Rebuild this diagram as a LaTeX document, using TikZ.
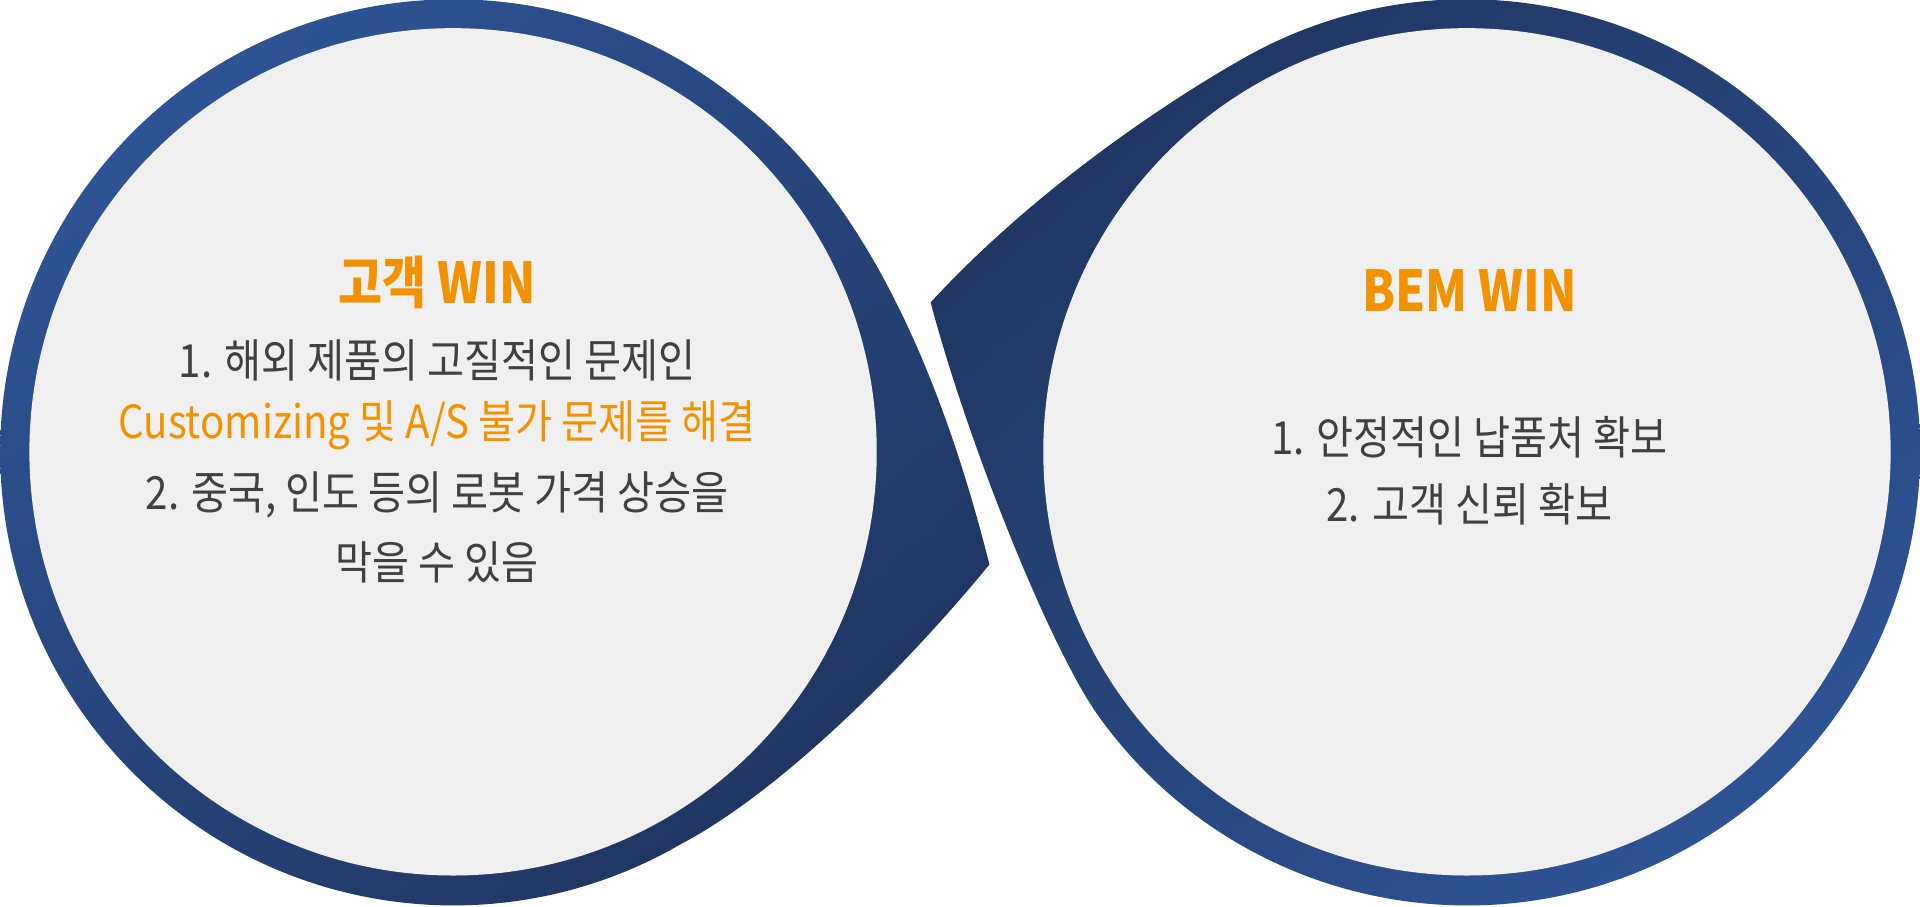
\documentclass[tikz,border=0pt]{standalone}
\usepackage{fontspec}
\newfontfamily\kr{Noto Sans CJK KR}
\definecolor{bl}{HTML}{2F5597}
\definecolor{bd}{HTML}{1F3560}
\definecolor{org}{HTML}{F39200}
\definecolor{txt}{HTML}{404040}
\definecolor{inner}{HTML}{F0F0F0}
\begin{document}
\begin{tikzpicture}[x=0.012245cm,y=0.012245cm,
  ttl/.style={text=org,xscale=0.85,font=\kr\bfseries\fontsize{16}{19}\selectfont},
  ln/.style={text=txt,xscale=0.88,font=\kr\fontsize{13}{16}\selectfont},
  lno/.style={text=org,xscale=0.88,font=\kr\fontsize{13}{16}\selectfont}]
\useasboundingbox (0,0) rectangle (1568,740);
% left drop
\shade[top color=bl,bottom color=bd,shading angle=40]
  (608,654) arc (50:300:370)
  .. controls (650,100) and (760,220) .. (808,279)
  .. controls (760,470) and (690,590) .. (608,654) -- cycle;
% right drop
\shade[top color=bd,bottom color=bl,shading angle=40]
  (760,493) .. controls (840,580) and (943,651) .. (1013,691)
  arc (120:-145:370)
  .. controls (855,217) and (790,380) .. (760,493) -- cycle;
\fill[inner] (370,371) circle (346);
\fill[inner] (1198,371) circle (346);
\node[ttl] (t1) at (357,509) {고객 WIN};
\node[ln] (a1) at (357,446) {1. 해외 제품의 고질적인 문제인};
\node[lno] (a2) at (357,393) {Customizing 및 A/S 불가 문제를 해결};
\node[ln] (a3) at (357,336) {2. 중국, 인도 등의 로봇 가격 상승을};
\node[ln] (a4) at (357,281) {막을 수 있음};
\node[ttl] (t2) at (1200,503) {BEM WIN};
\node[ln] (b1) at (1200,383) {1. 안정적인 납품처 확보};
\node[ln] (b2) at (1200,328) {2. 고객 신뢰 확보};
\end{tikzpicture}
\end{document}
